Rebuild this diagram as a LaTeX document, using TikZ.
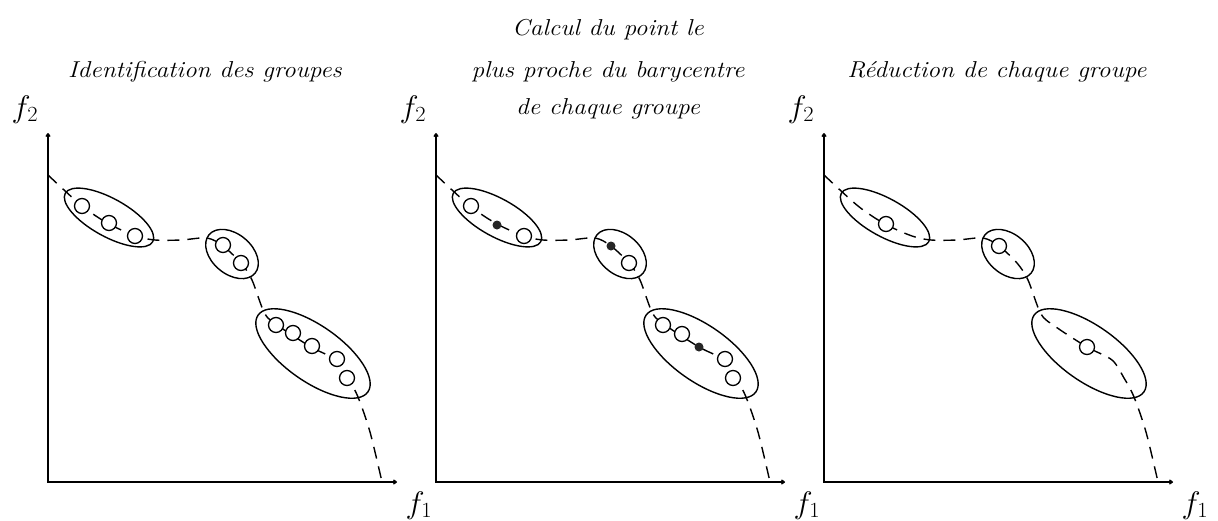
\documentclass[tikz,border=0pt]{standalone}
\usetikzlibrary{shapes.geometric,arrows.meta}
\tikzset{
  grp/.style={draw, ellipse, inner sep=0pt, line width=1.4pt},
  opt/.style={circle, draw, fill=white, inner sep=0pt, minimum size=15pt, line width=1.3pt},
  bary/.style={circle, fill=black!85, inner sep=0pt, minimum size=9pt},
  front/.style={dash pattern=on 12pt off 8pt, line width=1.4pt},
  axis/.style={line width=1.5pt, {To[length=4pt,width=5pt]}-{To[length=4pt,width=5pt]}},
  ttl/.style={font=\fontsize{23}{41}\selectfont\itshape, anchor=base, xscale=1.1, transform shape},
  lbl/.style={font=\fontsize{24}{28}\selectfont, anchor=base, xscale=1.3, yscale=1.25, transform shape}
}
\begin{document}
\begin{tikzpicture}[x=1pt, y=-1pt]
\useasboundingbox (0,0) rectangle (1218,520);
\foreach \p/\dx in {1/0,2/388,3/776}{
  \begin{scope}[xshift=\dx pt]
    \coordinate (ytop\p) at (48,133);
    \coordinate (o\p) at (48,482);
    \coordinate (xend\p) at (397,482);
    \draw[axis] (ytop\p) -- (o\p) -- (xend\p);
    \node[lbl] (ftwo\p) at (25,117) {$f_2$};
    \node[lbl] (fone\p) at (419,513) {$f_1$};
    \draw[front] plot[smooth, tension=0.5] coordinates {
      (48,175) (82,206) (109,224) (136,236) (155,240) (181,240) (207,238)
      (223,246) (241,263) (252,280) (265,314) (280,327) (311,347)
      (336,360) (348,378) (358,397) (370,432) (382,482)};
    \node[grp, minimum width=100pt, minimum height=38pt, rotate=-29] (ea\p) at (109,217.5) {};
    \node[grp, minimum width=60pt, minimum height=40pt, rotate=-40] (eb\p) at (232,254) {};
    \node[grp, minimum width=134pt, minimum height=56pt, rotate=-35] (ec\p) at (313,353.5) {};
  \end{scope}
}
% panel 1: all points
\node[opt] (a1) at (82,206) {};
\node[opt] (a2) at (109,223) {};
\node[opt] (a3) at (135,236) {};
\node[opt] (a4) at (223,245) {};
\node[opt] (a5) at (241,263) {};
\node[opt] (a6) at (276,325) {};
\node[opt] (a7) at (293,333) {};
\node[opt] (a8) at (312,346) {};
\node[opt] (a9) at (337,359) {};
\node[opt] (a10) at (347,378) {};
% panel 2: barycentres
\begin{scope}[xshift=388pt]
\node[opt] (b1) at (83,206) {};
\node[bary] (b2) at (109,225) {};
\node[opt] (b3) at (136,236) {};
\node[bary] (b4) at (223,246) {};
\node[opt] (b5) at (241,263) {};
\node[opt] (b6) at (275,325) {};
\node[opt] (b7) at (294,334) {};
\node[bary] (b8) at (311,347) {};
\node[opt] (b9) at (337,359) {};
\node[opt] (b10) at (345,378) {};
\end{scope}
% panel 3: reduced
\begin{scope}[xshift=776pt]
\node[opt] (c1) at (110,224) {};
\node[opt] (c2) at (223,246) {};
\node[opt] (c3) at (311,347) {};
\end{scope}
% titles
\node[ttl] (t1) at (205,77) {Identification des groupes};
\node[ttl] (t2a) at (608,35) {Calcul du point le};
\node[ttl] (t2b) at (608,77) {plus proche du barycentre};
\node[ttl] (t2c) at (608,114) {de chaque groupe};
\node[ttl] (t3) at (997,77) {R\'eduction de chaque groupe};
\end{tikzpicture}
\end{document}
